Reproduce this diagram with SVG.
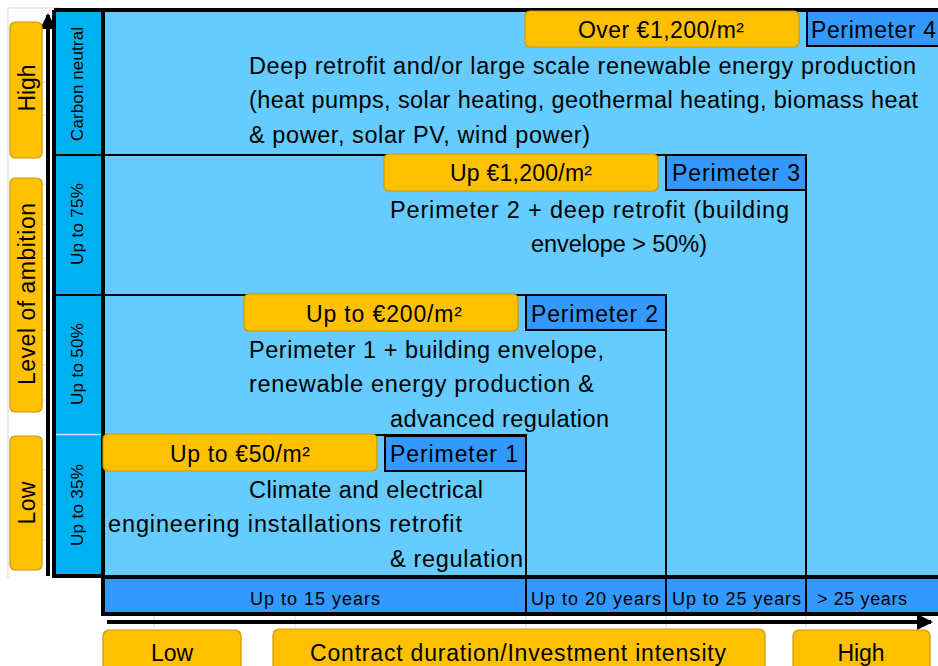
<svg xmlns="http://www.w3.org/2000/svg" width="938" height="666" viewBox="0 0 938 666">
<style>
text{font-family:"Liberation Sans",Arial,sans-serif;fill:#000}
.body{font-size:23.5px}
.lab{font-size:23px;text-anchor:middle}
.per{font-size:23px}
.yr{font-size:18px}
.col{font-size:17px;text-anchor:middle}
.yel{fill:#FFC000;stroke:#C99A00;stroke-width:1.2}
.pbox{fill:#3399FF;stroke:#000;stroke-width:2}
.thin{stroke:#000;stroke-width:2;fill:none}
.thick{stroke:#000;stroke-width:4;fill:none}
.grid{stroke:#D9D9D9;stroke-width:1;fill:none}
</style>
<defs>
<marker id="ah" markerWidth="4" markerHeight="4" refX="3.5" refY="2" orient="auto" markerUnits="strokeWidth">
<path d="M0,0 L4,2 L0,4 z" fill="#000"/>
</marker>
</defs>
<rect width="938" height="666" fill="#fff"/>
<g id="grid">
<path class="grid" d="M8,8 V578 M8,8 H60 M42,82 H48 M42,115 H48 M42,185 H48 M42,225 H48 M42,258 H48 M42,330 H48 M42,365 H48 M42,400 H48 M42,470 H48 M42,505 H48 M42,540 H48 M154,614 V628 M295,614 V628 M526,614 V628 M666,614 V628 M806,614 V628"/>
</g>
<g id="background">
<rect x="103" y="10" width="835" height="567" fill="#66CCFF"/>
<rect x="54" y="10" width="49" height="566" fill="#00B0F0"/>
<rect x="103" y="577" width="835" height="37" fill="#3399FF"/>
</g>
<g id="connectors">
<path class="thin" d="M103,435 H526 V577"/>
<path class="thin" d="M103,295 H666 V577"/>
<path class="thin" d="M103,155 H806 V577"/>
<path class="thin" d="M54,155 H103 M54,295 H103"/>
<path d="M54,434.5 H103" stroke="#C8E8F8" stroke-width="1.5"/>
<path class="thin" d="M526,577 V614 M666,577 V614 M806,577 V614"/>
<path class="thick" d="M54,10 H938 M54,10 V576 H103 M103,10 V614 H940 M103,577 H940"/>
<path d="M48,576 V15" stroke="#000" stroke-width="4" marker-end="url(#ah)"/>
<path d="M107,622 H931" stroke="#000" stroke-width="4" marker-end="url(#ah)"/>
</g>
<g id="axis-y">
<rect class="yel" x="10" y="22" width="32" height="136" rx="5"/>
<text class="lab" transform="translate(35,88) rotate(-90)" textLength="47">High</text>
<rect class="yel" x="10" y="178" width="32" height="234" rx="5"/>
<text class="lab" transform="translate(35,294) rotate(-90)" textLength="182">Level of ambition</text>
<rect class="yel" x="10" y="436" width="32" height="134" rx="5"/>
<text class="lab" transform="translate(35,503) rotate(-90)" textLength="43">Low</text>
</g>
<g id="ambition-levels">
<text class="col" transform="translate(83,84) rotate(-90)" textLength="114">Carbon neutral</text>
<text class="col" transform="translate(83,224) rotate(-90)" textLength="82">Up to 75%</text>
<text class="col" transform="translate(83,364) rotate(-90)" textLength="82">Up to 50%</text>
<text class="col" transform="translate(83,505) rotate(-90)" textLength="82">Up to 35%</text>
</g>
<g id="perimeter-4">
<rect class="yel" x="525" y="11" width="274" height="36" rx="5"/>
<text class="lab" x="661" y="38" textLength="166">Over €1,200/m²</text>
<rect class="pbox" x="807" y="11" width="133" height="35"/>
<text class="per" x="811" y="38" textLength="125">Perimeter 4</text>
<text class="body" x="249" y="74" textLength="667">Deep retrofit and/or large scale renewable energy production</text>
<text class="body" x="249" y="108" textLength="669">(heat pumps, solar heating, geothermal heating, biomass heat</text>
<text class="body" x="249" y="143" textLength="341">&amp; power, solar PV, wind power)</text>
</g>
<g id="perimeter-3">
<rect class="yel" x="384" y="154" width="274" height="37" rx="5"/>
<text class="lab" x="521" y="181" textLength="142">Up €1,200/m²</text>
<rect class="pbox" x="666" y="155" width="140" height="35"/>
<text class="per" x="672" y="181" textLength="128">Perimeter 3</text>
<text class="body" x="390" y="218" textLength="399">Perimeter 2 + deep retrofit  (building</text>
<text class="body" x="531" y="252" textLength="176">envelope &gt; 50%)</text>
</g>
<g id="perimeter-2">
<rect class="yel" x="244" y="294" width="274" height="37" rx="5"/>
<text class="lab" x="384" y="322" textLength="156">Up to €200/m²</text>
<rect class="pbox" x="526" y="295" width="140" height="35"/>
<text class="per" x="531" y="322" textLength="127">Perimeter 2</text>
<text class="body" x="249" y="358" textLength="355">Perimeter 1 + building envelope,</text>
<text class="body" x="249" y="392" textLength="345">renewable energy production &amp;</text>
<text class="body" x="390" y="427" textLength="219">advanced regulation</text>
</g>
<g id="perimeter-1">
<rect class="yel" x="103" y="434" width="274" height="37" rx="5"/>
<text class="lab" x="240" y="462" textLength="140">Up to €50/m²</text>
<rect class="pbox" x="385" y="436" width="141" height="35"/>
<text class="per" x="390" y="462" textLength="128">Perimeter 1</text>
<text class="body" x="249" y="498" textLength="234">Climate and electrical</text>
<text class="body" x="108" y="532" textLength="354">engineering installations retrofit</text>
<text class="body" x="390" y="567" textLength="133">&amp; regulation</text>
</g>
<g id="durations">
<text class="yr" x="250" y="605" textLength="130">Up to 15 years</text>
<text class="yr" x="531" y="605" textLength="130">Up to 20 years</text>
<text class="yr" x="672" y="605" textLength="129">Up to 25 years</text>
<text class="yr" x="817" y="605" textLength="90">&gt; 25 years</text>
</g>
<g id="axis-x">
<rect class="yel" x="103" y="630" width="138" height="45" rx="6"/>
<text class="lab" x="172" y="661" textLength="42">Low</text>
<rect class="yel" x="273" y="629" width="492" height="46" rx="6"/>
<text class="lab" x="518" y="661" textLength="416">Contract duration/Investment intensity</text>
<rect class="yel" x="793" y="630" width="137" height="45" rx="6"/>
<text class="lab" x="861" y="661" textLength="47">High</text>
</g>
</svg>
